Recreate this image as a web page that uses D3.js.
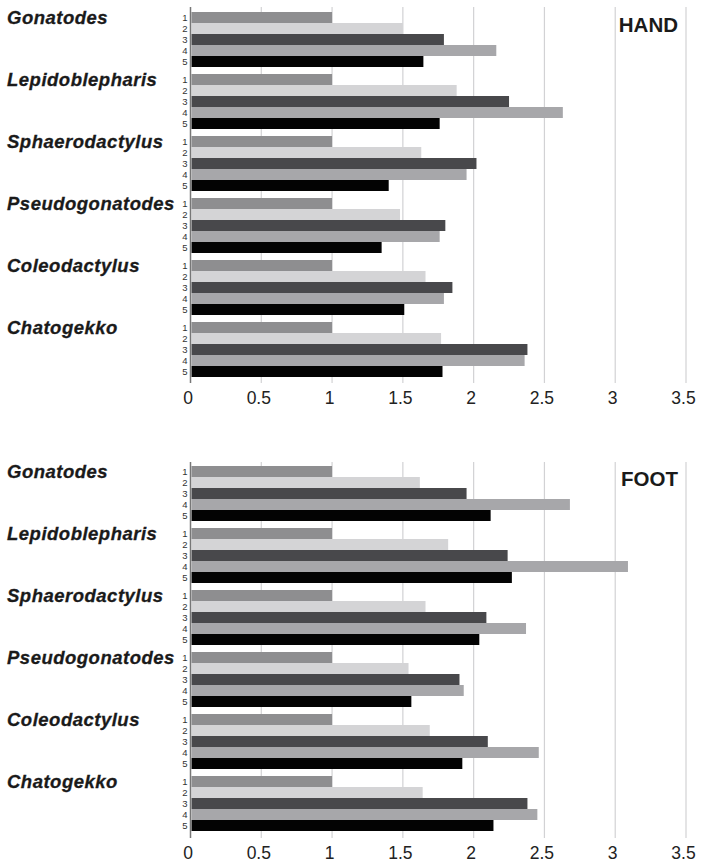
<!DOCTYPE html>
<html>
<head>
<meta charset="utf-8">
<script src="https://cdn.jsdelivr.net/npm/d3@7"></script>
<style>
  html, body { margin: 0; padding: 0; background: #fff; }
  svg { display: block; }
</style>
</head>
<body>
<svg id="chart" width="701" height="868"></svg>
<script>
// ---- DATA ----
const genera = ["Gonatodes", "Lepidoblepharis", "Sphaerodactylus", "Pseudogonatodes", "Coleodactylus", "Chatogekko"];
const series = ["1", "2", "3", "4", "5"];
const xTicks = [0, 0.5, 1, 1.5, 2, 2.5, 3, 3.5];
const tickLabels = ["0", "0.5", "1", "1.5", "2", "2.5", "3", "3.5"];
const panelTitles = ["HAND", "FOOT"];

// values per genus, series 1..5
const handValues = [
  [1.00, 1.50, 1.79, 2.16, 1.645],
  [1.00, 1.88, 2.25, 2.63, 1.76],
  [1.00, 1.63, 2.02, 1.95, 1.40],
  [1.00, 1.48, 1.80, 1.76, 1.35],
  [1.00, 1.66, 1.85, 1.79, 1.51],
  [1.00, 1.77, 2.38, 2.36, 1.78]
];
const footValues = [
  [1.00, 1.62, 1.95, 2.68, 2.12],
  [1.00, 1.82, 2.24, 3.09, 2.27],
  [1.00, 1.66, 2.09, 2.37, 2.04],
  [1.00, 1.54, 1.90, 1.93, 1.56],
  [1.00, 1.69, 2.10, 2.46, 1.92],
  [1.00, 1.64, 2.38, 2.45, 2.14]
];
const seriesColors = ["#8e8e90", "#d4d4d6", "#48484b", "#a7a7aa", "#030303"];

// ---- DRAW ----
const svg = d3.select("#chart");
const x = d3.scaleLinear().domain([0, 3.5]).range([190.5, 686]);
const color = d3.scaleOrdinal().domain(series).range(seriesColors);

const panels = [
  { title: panelTitles[0], values: handValues, groupTop: 12, lineTop: 7, lineBottom: 383, titleY: 32 },
  { title: panelTitles[1], values: footValues, groupTop: 466, lineTop: 462, lineBottom: 838, titleY: 486 }
];

panels.forEach(p => {
  const g = svg.append("g");
  const y0 = d3.scaleBand().domain(genera)
    .range([p.groupTop, p.groupTop + 6 * 62 - 7])
    .paddingInner(7 / 62).paddingOuter(0);
  const y1 = d3.scaleBand().domain(series).range([0, y0.bandwidth()]).padding(0);

  // gridlines
  g.selectAll("line.grid").data(xTicks.filter(d => d > 0)).join("line")
    .attr("class", "grid")
    .attr("x1", d => x(d)).attr("x2", d => x(d))
    .attr("y1", p.lineTop).attr("y2", p.lineBottom)
    .attr("stroke", "#d2d2d4").attr("stroke-width", 1.2);

  // bars
  genera.forEach((gen, gi) => {
    const gg = g.append("g").attr("transform", `translate(0,${y0(gen)})`);
    gg.selectAll("rect").data(p.values[gi].map((v, si) => ({ s: series[si], v })))
      .join("rect")
      .attr("x", x(0) + 1)
      .attr("y", d => y1(d.s))
      .attr("width", d => x(d.v) - x(0) - 1)
      .attr("height", y1.bandwidth())
      .attr("fill", d => color(d.s));
    gg.selectAll("text").data(series).join("text")
      .attr("x", 187.5)
      .attr("y", d => y1(d) + y1.bandwidth() / 2 + 3.4)
      .attr("text-anchor", "end")
      .attr("font-family", "Liberation Sans, Arial, sans-serif")
      .attr("font-size", 9.5)
      .attr("fill", "#333")
      .text(d => d);
    g.append("text")
      .attr("x", 7)
      .attr("y", y0(gen) + 12.3)
      .attr("font-family", "Liberation Sans, Arial, sans-serif")
      .attr("font-size", 18.5)
      .attr("font-weight", "bold")
      .attr("font-style", "italic")
      .attr("letter-spacing", 0.5)
      .attr("stroke", "#1a1a1a")
      .attr("stroke-width", 0.3)
      .attr("fill", "#1a1a1a")
      .text(gen);
  });

  // axis line at zero
  g.append("line")
    .attr("x1", x(0)).attr("x2", x(0))
    .attr("y1", p.lineTop).attr("y2", p.lineBottom)
    .attr("stroke", "#777").attr("stroke-width", 1.5);

  // tick labels via axis
  const axis = d3.axisBottom(x).tickValues(xTicks).tickFormat((d, i) => tickLabels[i]).tickSize(0).tickPadding(0);
  const ag = g.append("g").attr("transform", `translate(-3,${p.lineBottom + 9})`).call(axis);
  ag.select(".domain").remove();
  ag.selectAll("text")
    .attr("font-family", "Liberation Sans, Arial, sans-serif")
    .attr("font-size", 17.5)
    .attr("fill", "#222")
    .attr("dy", "0.71em");

  // panel title
  g.append("text")
    .attr("x", 678)
    .attr("y", p.titleY)
    .attr("text-anchor", "end")
    .attr("font-family", "Liberation Sans, Arial, sans-serif")
    .attr("font-size", 20.5)
    .attr("font-weight", "bold")
    .attr("fill", "#1a1a1a")
    .text(p.title);
});
</script>
</body>
</html>
